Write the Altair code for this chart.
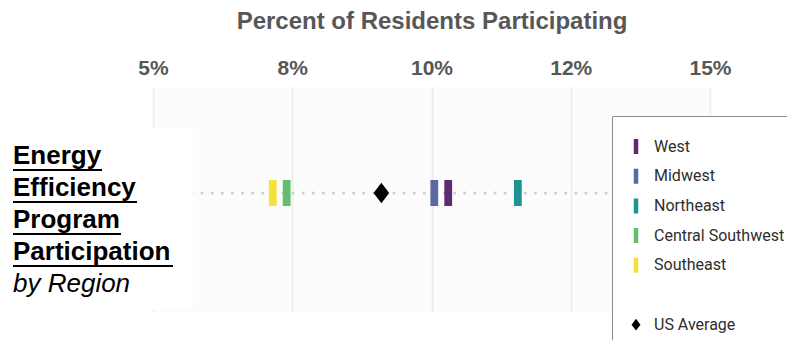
import json

import altair as alt
import pandas as pd

# Share of residents taking part in energy-efficiency programs, by region
regions = ["West", "Midwest", "Northeast", "Central Southwest", "Southeast"]
region_rates = [0.103, 0.1005, 0.1155, 0.074, 0.0715]
region_colors = ["#5e2a70", "#5a6aa0", "#1f9391", "#64be6c", "#f6e13a"]

avg_label = "US Average"
avg_rate = 0.091
avg_color = "#000000"

# Axis ticks and the labels printed on them
tick_values = [0.05, 0.075, 0.10, 0.125, 0.15]
tick_labels = ["5%", "8%", "10%", "12%", "15%"]

# Extent of the dotted guide line that the markers sit on
guide_start, guide_end = 0.057, 0.16

heading_lines = ["Energy", "Efficiency", "Program", "Participation"]
heading_sub = "by Region"

W, H = 557, 225
PAD_L, PAD_T = 153, 87
ROW_Y = 106

BAR = "M-0.3,-1L0.3,-1L0.3,1L-0.3,1Z"
DIAMOND = "M0,-0.78L0.6,0L0,0.78L-0.6,0Z"

points = pd.DataFrame({
    "name": regions + [avg_label],
    "rate": region_rates + [avg_rate],
})
guide = pd.DataFrame({"start": [guide_start], "end": [guide_end]})

legend_domain = regions + [" ", avg_label]
color_range = region_colors + ["rgba(0,0,0,0)", avg_color]
shape_range = [BAR] * len(regions) + ["circle", DIAMOND]

label_expr = f"{json.dumps(tick_labels)}[indexof({json.dumps(tick_values)}, datum.value)]"

x_scale = alt.Scale(domain=[0.05, 0.15], nice=False, zero=False)
x_axis = alt.Axis(
    orient="top",
    values=tick_values,
    labelExpr=label_expr,
    title="Percent of Residents Participating",
    titleFont="Liberation Sans",
    titleFontSize=24,
    titleFontWeight="bold",
    titleColor="#575757",
    titleX=W / 2,
    titleY=-59,
    titleAlign="center",
    titleBaseline="alphabetic",
    labelFont="Liberation Sans",
    labelFontSize=21,
    labelFontWeight="bold",
    labelColor="#575757",
    labelPadding=9,
    labelFlush=False,
    labelOverlap=False,
    ticks=False,
    domain=False,
    grid=True,
    gridColor="#ebebeb",
    gridWidth=1.5,
)

legend = alt.Legend(
    orient="none",
    legendX=459,
    legendY=29,
    title=None,
    padding=16,
    strokeColor="#8c8c8c",
    fillColor="white",
    cornerRadius=0,
    symbolSize=225,
    symbolStrokeWidth=0,
    clipHeight=29,
    rowPadding=0.7,
    labelFont="Roboto",
    labelFontSize=16,
    labelColor="#2e2e2e",
    labelOffset=10,
)

guide_line = alt.Chart(guide).mark_rule(
    color="#cfcfcf", strokeWidth=3, strokeDash=[0.1, 10], strokeCap="round"
).encode(
    x=alt.X("start:Q", scale=x_scale, axis=x_axis),
    x2="end:Q",
    y=alt.value(ROW_Y),
)

markers = alt.Chart(points).mark_point(filled=True, size=676, opacity=1).encode(
    x=alt.X("rate:Q", scale=x_scale, axis=x_axis),
    y=alt.value(ROW_Y),
    color=alt.Color("name:N", scale=alt.Scale(domain=legend_domain, range=color_range), legend=legend),
    shape=alt.Shape("name:N", scale=alt.Scale(domain=legend_domain, range=shape_range), legend=legend),
)

# White panel behind the heading at the left
panel = alt.Chart(guide).mark_rect(color="white").encode(
    x=alt.value(-PAD_L), x2=alt.value(40), y=alt.value(41), y2=alt.value(223)
)

layers = [guide_line, markers, panel]

text_x = 13 - PAD_L
baselines = [77, 109, 141, 173]
underline_ends = [102, 137, 121, 173]
for line, base, end in zip(heading_lines, baselines, underline_ends):
    layers.append(
        alt.Chart(guide).mark_text(
            text=line, align="left", baseline="alphabetic",
            font="Liberation Sans", fontSize=26, fontWeight="bold", color="#000000",
        ).encode(x=alt.value(text_x), y=alt.value(base))
    )
    layers.append(
        alt.Chart(guide).mark_rule(color="#000000", strokeWidth=2.2).encode(
            x=alt.value(text_x), x2=alt.value(end - PAD_L), y=alt.value(base + 6)
        )
    )

layers.append(
    alt.Chart(guide).mark_text(
        text=heading_sub, align="left", baseline="alphabetic",
        font="Liberation Sans", fontSize=26, fontStyle="italic", color="#000000",
    ).encode(x=alt.value(text_x), y=alt.value(205))
)

chart = alt.layer(*layers).properties(
    width=W,
    height=H,
    autosize=alt.AutoSizeParams(type="none"),
    padding={"left": PAD_L, "top": PAD_T, "right": 787 - PAD_L - W, "bottom": 340 - PAD_T - H},
    background="white",
).configure_view(fill="#fcfcfc", strokeWidth=0)

chart.save("out.html", embed_options={"renderer": "svg", "actions": False})
